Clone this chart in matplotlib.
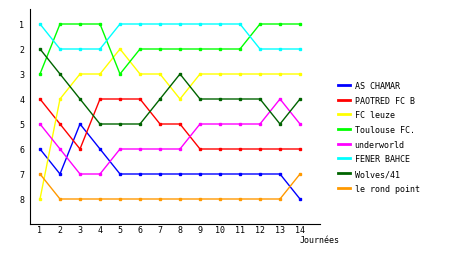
import matplotlib
matplotlib.use("Agg")
import matplotlib.pyplot as plt

journees = list(range(1, 15))

teams = [
    "AS CHAMAR",
    "PAOTRED FC B",
    "FC leuze",
    "Toulouse FC.",
    "underworld",
    "FENER BAHCE",
    "Wolves/41",
    "le rond point",
]
colors = ["#0000ff", "#ff0000", "#ffff00", "#00ff00",
          "#ff00ff", "#00ffff", "#006400", "#ff9900"]

as_chamar = [6, 7, 5, 6, 7, 7, 7, 7, 7, 7, 7, 7, 7, 8]
paotred = [4, 5, 6, 4, 4, 4, 5, 5, 6, 6, 6, 6, 6, 6]
fc_leuze = [8, 4, 3, 3, 2, 3, 3, 4, 3, 3, 3, 3, 3, 3]
toulouse = [3, 1, 1, 1, 3, 2, 2, 2, 2, 2, 2, 1, 1, 1]
underworld = [5, 6, 7, 7, 6, 6, 6, 6, 5, 5, 5, 5, 4, 5]
fener = [1, 2, 2, 2, 1, 1, 1, 1, 1, 1, 1, 2, 2, 2]
wolves = [2, 3, 4, 5, 5, 5, 4, 3, 4, 4, 4, 4, 5, 4]
rond_point = [7, 8, 8, 8, 8, 8, 8, 8, 8, 8, 8, 8, 8, 7]

series = [as_chamar, paotred, fc_leuze, toulouse,
          underworld, fener, wolves, rond_point]

plt.rcParams["font.family"] = ["DejaVu Sans Mono"]

fig = plt.figure(figsize=(4.6, 2.55), dpi=100)
ax = fig.add_axes([30 / 460, 30 / 255, 290 / 460, 215 / 255])

for name, vals, c in zip(teams, series, colors):
    ax.plot(journees, vals, color=c, lw=1, marker="s", ms=2,
            label=name)

ax.set_xlim(0.5, 15)
ax.set_ylim(9, 0.4)
ax.set_xticks(journees)
ax.set_yticks(range(1, 9))
ax.tick_params(length=0, labelsize=6)
ax.tick_params(axis="x", pad=1)
ax.tick_params(axis="y", pad=4)
for s in ["top", "right"]:
    ax.spines[s].set_visible(False)

fig.text(300 / 460, 1 - 241 / 255, "Journées", fontsize=6,
         va="center", ha="left")

ax.legend(loc="upper left", bbox_to_anchor=(338 / 460, 1 - 82 / 255),
          bbox_transform=fig.transFigure, frameon=False, fontsize=6,
          handlelength=1.5, handletextpad=0.5, labelspacing=0.68,
          borderpad=0, borderaxespad=0)
for line in ax.get_legend().get_lines():
    line.set_marker("")
    line.set_linewidth(2)

fig.savefig("out.png", dpi=100)
